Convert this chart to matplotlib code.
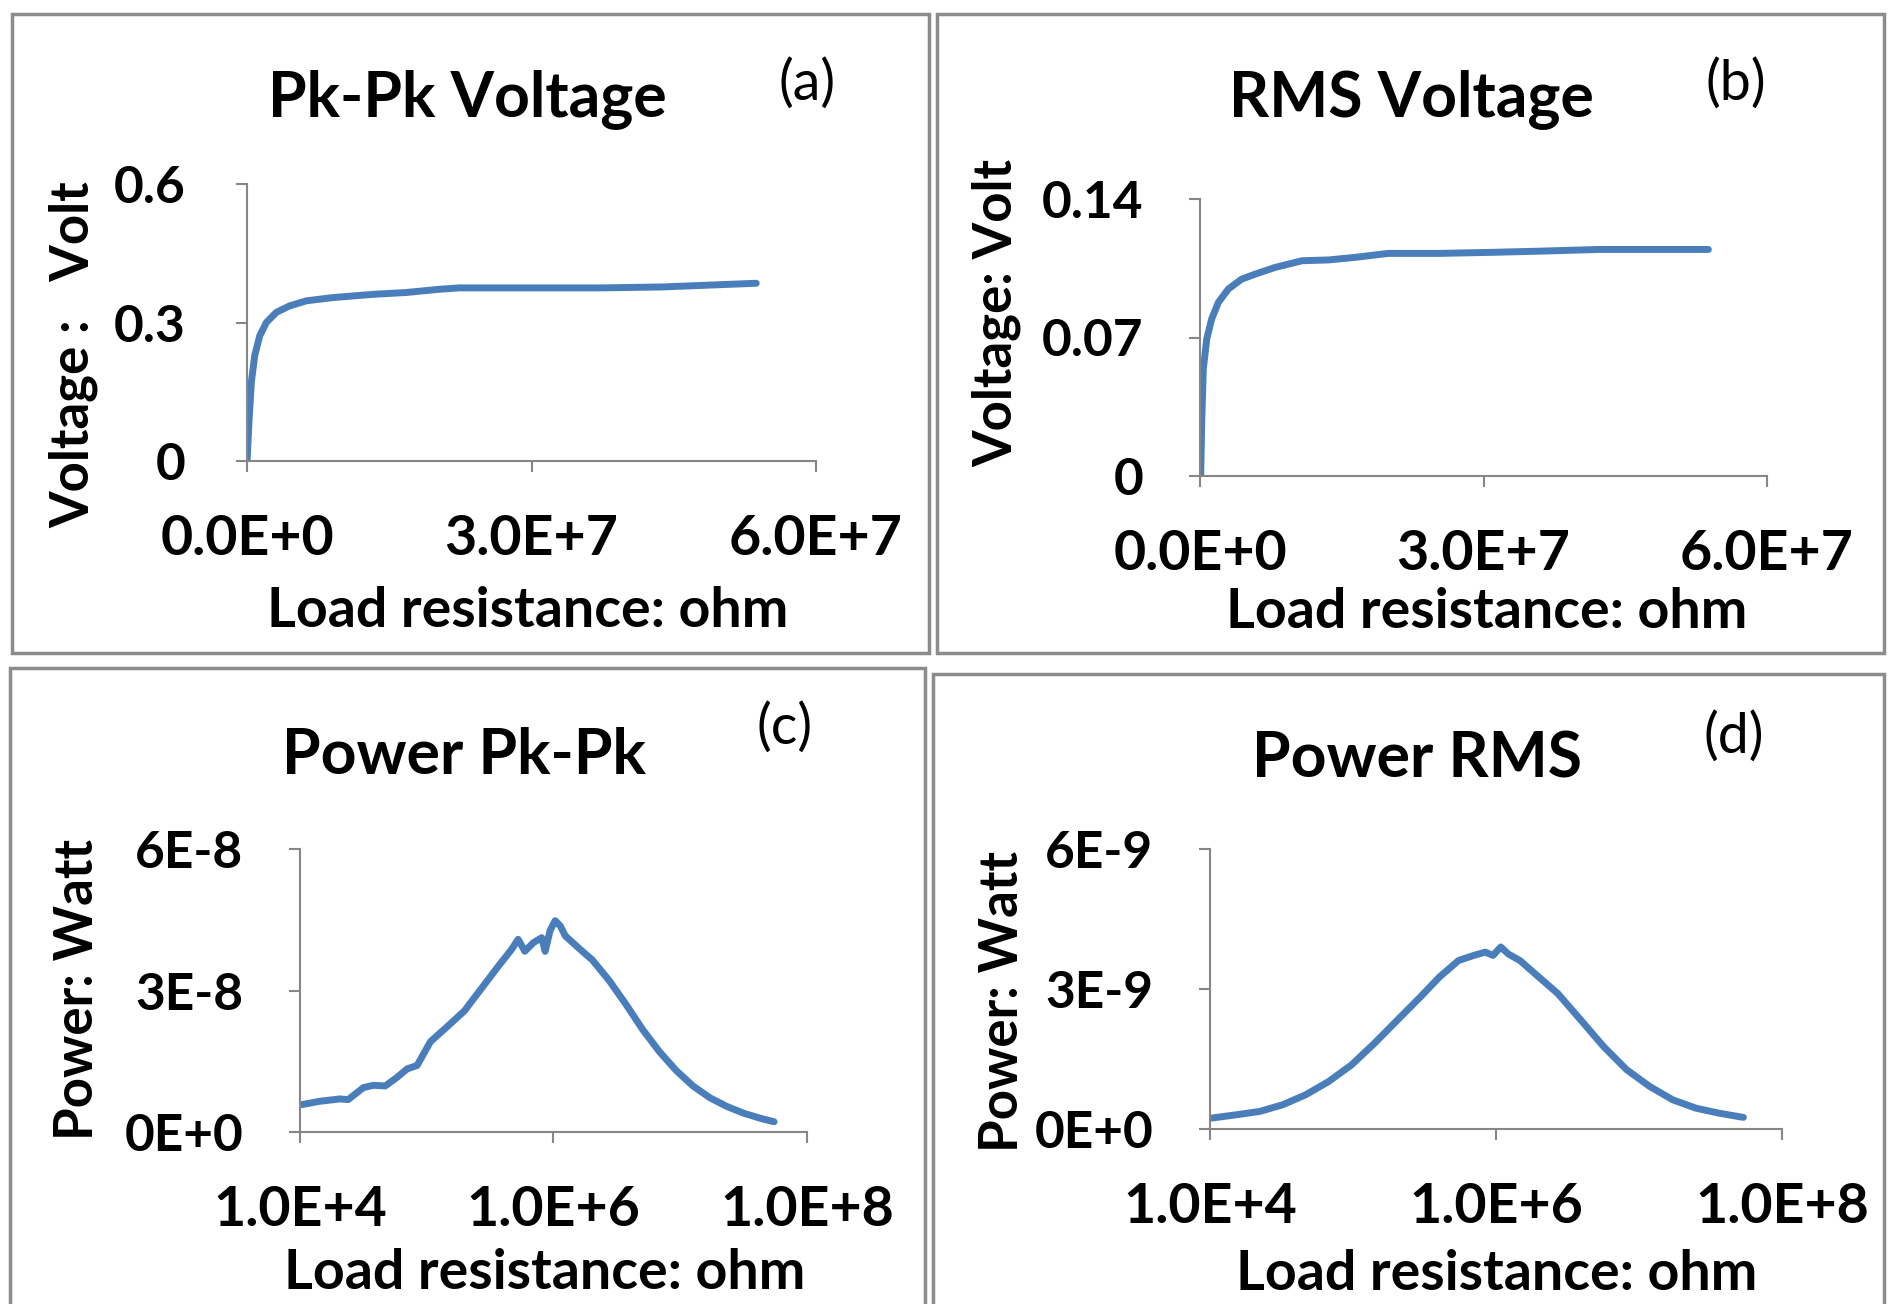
import numpy as np
import matplotlib
matplotlib.use("Agg")
import matplotlib.pyplot as plt
from matplotlib.patches import Rectangle

plt.rcParams['font.family'] = ['Lato', 'DejaVu Sans']

# (a) peak-to-peak voltage vs load resistance (ohm)
r_a = [0.01e6, 0.21e6, 0.46e6, 0.81e6, 1.34e6, 2.04e6, 3.09e6, 4.50e6, 6.26e6, 9.07e6,
       13.3e6, 16.8e6, 20.3e6, 22.4e6, 30.9e6, 37.5e6, 43.8e6, 53.7e6]
v_a = [0.0, 0.085, 0.171, 0.228, 0.271, 0.300, 0.322, 0.336, 0.347, 0.354,
       0.361, 0.365, 0.372, 0.375, 0.375, 0.375, 0.377, 0.385]

# (b) rms voltage
r_b = [0.07e6, 0.18e6, 0.35e6, 0.71e6, 1.23e6, 1.94e6, 3.00e6, 4.41e6, 5.82e6, 7.94e6,
       10.8e6, 13.6e6, 16.4e6, 19.9e6, 25.2e6, 30.5e6, 35.7e6, 42.2e6, 53.8e6]
v_b = [0.0, 0.027, 0.054, 0.0692, 0.0793, 0.0877, 0.0945, 0.0995, 0.102, 0.1054,
       0.1088, 0.1092, 0.1105, 0.1125, 0.1125, 0.113, 0.1136, 0.1145, 0.1145]

# (c) power pk-pk (log resistance axis)
r_c = [1.02e4, 1.43e4, 2.06e4, 2.40e4, 3.16e4, 3.79e4, 4.70e4, 5.82e4, 7.00e4, 8.39e4,
       1.07e5, 1.46e5, 1.98e5, 2.69e5, 3.65e5, 4.66e5, 5.26e5, 5.94e5, 6.93e5, 8.07e5,
       8.59e5, 9.40e5, 1.03e6, 1.13e6, 1.24e6, 1.58e6, 2.02e6, 2.74e6, 3.72e6, 5.06e6,
       6.87e6, 9.31e6, 1.26e7, 1.72e7, 2.33e7, 3.17e7, 4.31e7, 5.50e7]
p_c = [0.578e-8, 0.651e-8, 0.701e-8, 0.687e-8, 0.940e-8, 0.990e-8, 0.976e-8, 1.157e-8, 1.338e-8, 1.41e-8,
       1.916e-8, 2.241e-8, 2.567e-8, 3.037e-8, 3.507e-8, 3.868e-8, 4.085e-8, 3.832e-8, 4.013e-8, 4.12e-8,
       3.83e-8, 4.27e-8, 4.48e-8, 4.37e-8, 4.157e-8, 3.90e-8, 3.65e-8, 3.217e-8, 2.711e-8, 2.169e-8,
       1.699e-8, 1.301e-8, 0.976e-8, 0.723e-8, 0.542e-8, 0.398e-8, 0.289e-8, 0.217e-8]

# (d) power rms
r_d = [1.03e4, 1.54e4, 2.23e4, 3.22e4, 4.66e4, 6.75e4, 9.75e4, 1.41e5, 2.04e5, 2.96e5,
       4.02e5, 5.47e5, 7.00e5, 8.41e5, 9.53e5, 1.08e6, 1.22e6, 1.47e6, 1.87e6, 2.71e6,
       3.93e6, 5.68e6, 8.20e6, 1.19e7, 1.72e7, 2.49e7, 3.60e7, 5.37e7]
p_d = [0.235e-9, 0.306e-9, 0.377e-9, 0.519e-9, 0.732e-9, 1.017e-9, 1.372e-9, 1.834e-9, 2.332e-9, 2.83e-9,
       3.256e-9, 3.61e-9, 3.72e-9, 3.79e-9, 3.72e-9, 3.90e-9, 3.75e-9, 3.61e-9, 3.33e-9, 2.90e-9,
       2.33e-9, 1.76e-9, 1.27e-9, 0.91e-9, 0.626e-9, 0.448e-9, 0.341e-9, 0.249e-9]

titles = ['Pk-Pk Voltage', 'RMS Voltage', 'Power Pk-Pk', 'Power RMS']
tags = ['(a)', '(b)', '(c)', '(d)']
ylabels = ['Voltage :   Volt', 'Voltage: Volt', 'Power: Watt', 'Power: Watt']
xlabel = 'Load resistance: ohm'

xt_lin = [0, 3e7, 6e7]
xt_lin_lab = ['0.0E+0', '3.0E+7', '6.0E+7']
xt_log = [1e4, 1e6, 1e8]
xt_log_lab = ['1.0E+4', '1.0E+6', '1.0E+8']
yt = [[0, 0.3, 0.6], [0, 0.07, 0.14], [0, 3e-8, 6e-8], [0, 3e-9, 6e-9]]
yt_lab = [['0', '0.3', '0.6'], ['0', '0.07', '0.14'],
          ['0E+0', '3E-8', '6E-8'], ['0E+0', '3E-9', '6E-9']]

W, H = 1888, 1304
fig = plt.figure(figsize=(W / 100, H / 100), dpi=100)

def fx(px):
    return px / W

def fy(py):
    return 1 - py / H

# panel frames (pixels: x0, y0, x1, y1)
boxes = [(12, 14, 929, 653), (937, 14, 1884, 653), (10, 668, 925, 1330), (933, 674, 1884, 1330)]
for x0, y0, x1, y1 in boxes:
    fig.patches.append(Rectangle((fx(x0), fy(y1)), fx(x1 - x0), (y1 - y0) / H,
                                 transform=fig.transFigure, fill=False,
                                 edgecolor='#8c8c8c', linewidth=2.5))

# axes rectangles in pixels: left, right, bottom, top
axpix = [(247, 816, 461, 184), (1200, 1767, 476, 199), (300, 807, 1132, 849), (1210, 1782, 1129, 849)]
ylab_pos = [(-0.262, 0.383), (-0.316, 0.588), (-0.39, 0.502), (-0.32, 0.454)]
xlab_pos = [(0.494, -0.45), (0.506, -0.40), (0.483, -0.41), (0.502, -0.43)]
ypads = [36, 33, 33, 33]
title_pos = [(467, 99), (1411, 99), (464, 756), (1417, 759)]
tag_pos = [(807, 84), (1736, 84), (785, 728), (1734, 737)]

data = [(r_a, v_a), (r_b, v_b), (r_c, p_c), (r_d, p_d)]
blue = '#4a7ebb'
gray = '#868686'

for i in range(4):
    l, r, b, t = axpix[i]
    ax = fig.add_axes([fx(l), fy(b), fx(r - l), (b - t) / H])
    x, y = data[i]
    ax.plot(x, y, color=blue, linewidth=5, solid_capstyle='round', solid_joinstyle='round')
    if i < 2:
        ax.set_xlim(0, 6e7)
        ax.set_xticks(xt_lin)
        ax.set_xticklabels(xt_lin_lab)
    else:
        ax.set_xscale('log')
        ax.set_xlim(1e4, 1e8)
        ax.set_xticks(xt_log)
        ax.set_xticklabels(xt_log_lab)
        ax.minorticks_off()
    ax.set_ylim(yt[i][0], yt[i][-1])
    ax.set_yticks(yt[i])
    ax.set_yticklabels(yt_lab[i])
    for s in ['top', 'right']:
        ax.spines[s].set_visible(False)
    for s in ['left', 'bottom']:
        ax.spines[s].set_color(gray)
        ax.spines[s].set_linewidth(1.5)
    ax.tick_params(axis='both', direction='out', length=8, width=1.5, color=gray)
    ax.tick_params(axis='y', pad=ypads[i], labelsize=37)
    ax.tick_params(axis='x', pad=30, labelsize=40)
    for lab in ax.get_xticklabels() + ax.get_yticklabels():
        lab.set_fontweight('bold')
    ax.set_xlabel(xlabel, fontsize=40, fontweight='bold')
    ax.set_ylabel(ylabels[i], fontsize=38, fontweight='bold')
    ax.xaxis.set_label_coords(*xlab_pos[i])
    ax.yaxis.set_label_coords(*ylab_pos[i])
    ax.patch.set_alpha(0)
    fig.text(fx(title_pos[i][0]), fy(title_pos[i][1]), titles[i], ha='center', va='center',
             fontsize=45, fontweight='bold')
    fig.text(fx(tag_pos[i][0]), fy(tag_pos[i][1]), tags[i], ha='center', va='center',
             fontsize=40)

fig.savefig('out.png', dpi=100)
